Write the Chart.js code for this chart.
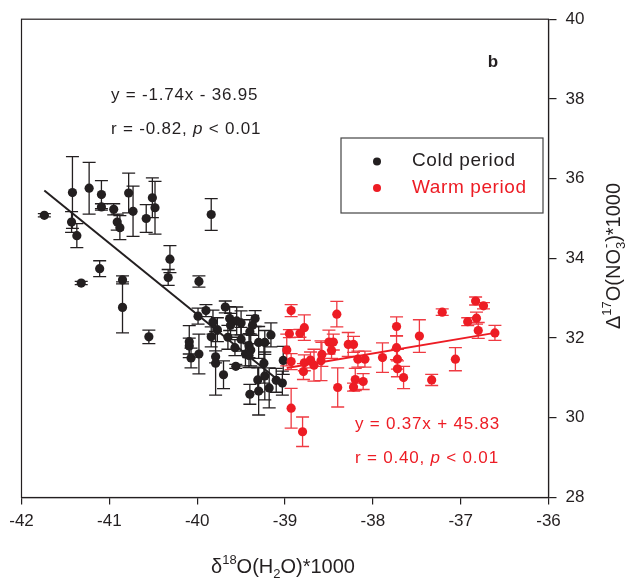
<!DOCTYPE html>
<html>
<head>
<meta charset="utf-8">
<script src="https://cdn.jsdelivr.net/npm/chart.js@4/dist/chart.umd.min.js"></script>
<style>
html,body{margin:0;padding:0;background:#fff;}
#wrap{width:630px;height:579px;position:relative;}
</style>
</head>
<body>
<div id="wrap"><canvas id="c" width="630" height="579"></canvas></div>
<script>
// ---------- DATA ----------
const xTicks = [-42, -41, -40, -39, -38, -37, -36];
const yTicks = [28, 30, 32, 34, 36, 38, 40];

const coldX = [-41.74,-41.42,-41.43,-41.37,-41.23,-41.09,-41.09,-40.95,-40.91,-40.88,-40.78,-40.73,-40.58,-40.51,-40.48,-39.84,
  -41.11,-41.32,-40.85,-40.85,-40.55,-40.31,-40.33,-39.98,-39.90,-39.68,-39.99,-39.82,-39.63,-39.55,-39.50,-39.34,
  -39.37,-39.40,-39.62,-39.77,-39.84,-39.65,-39.50,-39.57,-39.41,-39.39,-39.30,-39.23,-39.16,-40.09,-40.09,-39.98,
  -40.07,-39.79,-39.79,-39.56,-39.70,-39.45,-39.41,-39.24,-39.23,-39.31,-39.18,-39.30,-39.40,-39.10,-39.03,-39.02];
const coldY = [35.08,35.65,34.91,34.57,35.76,35.60,35.29,35.23,34.91,34.77,35.64,35.18,35.00,35.52,35.27,35.10,
  33.74,33.38,33.46,32.77,32.03,33.98,33.52,33.42,32.69,32.78,32.55,32.40,32.49,32.43,32.38,32.49,
  32.32,32.16,32.32,32.21,32.03,32.02,31.97,31.76,31.81,31.70,31.89,31.89,32.08,31.91,31.80,31.60,
  31.50,31.53,31.37,31.29,31.08,31.60,31.56,31.37,31.05,30.95,30.75,30.67,30.59,30.94,30.87,31.44];
const coldErr = [0.04,0.90,0.26,0.30,0.65,0.35,0.08,0.14,0.20,0.30,0.50,0.63,0.35,0.50,0.66,0.40,
  0.20,0.04,0.10,0.64,0.17,0.34,0.20,0.14,0.15,0.15,0.20,0.30,0.30,0.35,0.30,0.20,
  0.25,0.30,0.30,0.30,0.25,0.30,0.30,0.20,0.30,0.40,0.40,0.30,0.30,0.40,0.20,0.50,
  0.25,0.15,0.80,0.05,0.35,0.30,0.30,0.50,0.60,0.30,0.50,0.60,0.25,0.30,0.30,0.35];

const warmX = [-38.93,-38.95,-38.83,-38.78,-38.98,-38.93,-38.78,-38.79,-38.93,-38.80,-38.71,-38.67,-38.58,-38.59,
  -38.50,-38.45,-38.47,-38.41,-38.28,-38.22,-38.17,-38.09,-37.89,-37.73,-37.73,-37.72,-37.72,-37.65,-37.47,
  -38.40,-38.20,-38.22,-38.11,-37.21,-36.83,-36.74,-36.92,-36.82,-36.80,-36.61,-37.06,-37.33];
const warmY = [32.69,32.11,32.12,32.26,31.70,31.41,31.38,31.16,30.24,29.65,31.45,31.32,31.59,31.43,
  31.90,31.90,31.69,32.60,31.84,31.84,31.47,31.47,31.51,32.29,31.76,31.47,31.23,31.01,32.05,
  30.76,30.96,30.77,30.91,32.65,32.93,32.81,32.41,32.50,32.19,32.13,31.47,30.95];
const warmErr = [0.15,0.10,0.10,0.32,0.40,0.20,0.20,0.20,0.50,0.37,0.20,0.40,0.30,0.50,
  0.30,0.20,0.20,0.32,0.30,0.20,0.20,0.20,0.37,0.24,0.30,0.25,0.20,0.28,0.41,
  0.49,0.28,0.10,0.20,0.08,0.10,0.08,0.10,0.15,0.20,0.19,0.29,0.14];

const coldFitX = [-41.74, -39.02];
const coldFitY = [35.70, 30.84];
const warmFitX = [-38.98, -36.61];
const warmFitY = [31.25, 32.13];

const legendLabels = ['Cold period', 'Warm period'];
const coldEq = ['y = -1.74x - 36.95', 'r = -0.82, ', 'p', ' < 0.01'];
const warmEq = ['y = 0.37x + 45.83', 'r = 0.40, ', 'p', ' < 0.01'];
const panelLabel = 'b';

// ---------- STYLE ----------
const FONT = "'Liberation Sans', Arial, Helvetica, sans-serif";
const BLACK = '#231f20';
const RED = '#ed1c24';
const RED_BAR = '#ef3a42';

const pts = (xs, ys) => xs.map((x, i) => ({x: x, y: ys[i]}));

const errorBars = {
  id: 'errorBars',
  beforeDatasetsDraw(chart) {
    const ctx = chart.ctx, xs = chart.scales.x, ys = chart.scales.y;
    const sets = [[coldX, coldY, coldErr, BLACK], [warmX, warmY, warmErr, RED_BAR]];
    ctx.save();
    ctx.lineWidth = 1.3;
    sets.forEach(([X, Y, E, col]) => {
      ctx.strokeStyle = col;
      X.forEach((xv, i) => {
        const px = xs.getPixelForValue(xv);
        const top = ys.getPixelForValue(Y[i] + E[i]);
        const bot = ys.getPixelForValue(Y[i] - E[i]);
        ctx.beginPath();
        ctx.moveTo(px, top); ctx.lineTo(px, bot);
        ctx.moveTo(px - 6.5, top); ctx.lineTo(px + 6.5, top);
        ctx.moveTo(px - 6.5, bot); ctx.lineTo(px + 6.5, bot);
        ctx.stroke();
      });
    });
    ctx.restore();
  }
};

function rich(ctx, parts, cx, base) {
  let w = 0;
  parts.forEach(p => {
    ctx.font = p.size + 'px ' + FONT;
    p.w = ctx.measureText(p.t).width;
    if (p.stack) p.w = Math.max(p.w, ctx.measureText(p.stack).width);
    w += p.w;
  });
  let x = cx - w / 2;
  parts.forEach(p => {
    ctx.font = p.size + 'px ' + FONT;
    ctx.fillText(p.t, x, base + p.dy);
    if (p.stack) ctx.fillText(p.stack, x + 1, base + p.sdy);
    x += p.w;
  });
}

function seq(ctx, segs, x, y, size, color, ls) {
  ctx.fillStyle = color;
  ctx.textAlign = 'left';
  ctx.textBaseline = 'middle';
  try { ctx.letterSpacing = ls; } catch (e) {}
  segs.forEach(s => {
    ctx.font = (s.it ? 'italic ' : '') + size + 'px ' + FONT;
    ctx.fillText(s.t, x, y);
    x += ctx.measureText(s.t).width;
  });
  try { ctx.letterSpacing = '0px'; } catch (e) {}
}

const decor = {
  id: 'decor',
  afterDraw(chart) {
    const ctx = chart.ctx, a = chart.chartArea;
    ctx.save();
    // frame
    ctx.strokeStyle = BLACK;
    ctx.lineWidth = 1.2;
    ctx.strokeRect(a.left, a.top, a.right - a.left, a.bottom - a.top);

    // legend box
    ctx.strokeStyle = '#444';
    ctx.lineWidth = 1.2;
    ctx.strokeRect(341, 138, 202, 75);
    ctx.fillStyle = BLACK;
    ctx.beginPath(); ctx.arc(377, 161.5, 4, 0, Math.PI * 2); ctx.fill();
    ctx.fillStyle = RED;
    ctx.beginPath(); ctx.arc(377, 188, 4, 0, Math.PI * 2); ctx.fill();
    seq(ctx, [{t: legendLabels[0]}], 412, 161, 19, BLACK, '0.6px');
    seq(ctx, [{t: legendLabels[1]}], 412, 188, 19, RED, '0.6px');

    // equations
    seq(ctx, [{t: coldEq[0]}], 111, 95, 17, BLACK, '0.8px');
    seq(ctx, [{t: coldEq[1]}, {t: coldEq[2], it: true}, {t: coldEq[3]}], 111, 129, 17, BLACK, '0.8px');
    seq(ctx, [{t: warmEq[0]}], 355, 424, 17, RED, '0.8px');
    seq(ctx, [{t: warmEq[1]}, {t: warmEq[2], it: true}, {t: warmEq[3]}], 355, 458, 17, RED, '0.8px');

    // panel label
    ctx.fillStyle = BLACK;
    ctx.font = 'bold 17px ' + FONT;
    ctx.textAlign = 'center';
    ctx.textBaseline = 'middle';
    ctx.fillText(panelLabel, 493, 62);

    // axis titles
    ctx.textAlign = 'left';
    ctx.textBaseline = 'alphabetic';
    ctx.fillStyle = BLACK;
    rich(ctx, [
      {t: '\u03B4', size: 20, dy: 0},
      {t: '18', size: 13, dy: -9},
      {t: 'O(H', size: 20, dy: 0},
      {t: '2', size: 13, dy: 5},
      {t: 'O)*1000', size: 20, dy: 0}
    ], 283, 573);

    ctx.translate(620, 256);
    ctx.rotate(-Math.PI / 2);
    rich(ctx, [
      {t: '\u0394', size: 20, dy: 0},
      {t: '17', size: 13, dy: -9},
      {t: 'O(NO', size: 20, dy: 0},
      {t: '3', size: 13, dy: 5, stack: '-', sdy: -10},
      {t: ')*1000', size: 20, dy: 0}
    ], 0, 0);
    ctx.restore();
  }
};

const ctx = document.getElementById('c').getContext('2d');
new Chart(ctx, {
  type: 'scatter',
  data: {
    datasets: [
      {label: 'coldFit', data: pts(coldFitX, coldFitY), showLine: true, borderColor: BLACK, borderWidth: 2,
       pointRadius: 0, fill: false, order: 0},
      {label: 'warmFit', data: pts(warmFitX, warmFitY), showLine: true, borderColor: RED, borderWidth: 2,
       pointRadius: 0, fill: false, order: 0},
      {label: legendLabels[1], data: pts(warmX, warmY), backgroundColor: RED, borderColor: RED, borderWidth: 0,
       pointRadius: 4.6, pointHoverRadius: 4.6, order: 1},
      {label: legendLabels[0], data: pts(coldX, coldY), backgroundColor: BLACK, borderColor: BLACK, borderWidth: 0,
       pointRadius: 4.6, pointHoverRadius: 4.6, order: 2}
    ]
  },
  options: {
    responsive: false,
    animation: false,
    devicePixelRatio: 1,
    layout: {padding: {left: 21.5, top: 12.5, right: 0, bottom: 0}},
    plugins: {legend: {display: false}, tooltip: {enabled: false}},
    scales: {
      x: {
        type: 'linear', position: 'bottom', min: -42, max: -36,
        afterBuildTicks: s => { s.ticks = xTicks.map(v => ({value: v})); },
        afterFit: s => { s.height = 81.5; },
        grid: {drawOnChartArea: false, drawTicks: true, tickLength: 7, color: BLACK, lineWidth: 1.2},
        border: {display: true, color: BLACK, width: 1.2},
        ticks: {font: {size: 17, family: FONT}, color: BLACK, padding: 7, maxRotation: 0,
                callback: v => String(v)}
      },
      y: {
        type: 'linear', position: 'right', min: 28, max: 40,
        afterBuildTicks: s => { s.ticks = yTicks.map(v => ({value: v})); },
        afterFit: s => { s.width = 81.5; },
        grid: {drawOnChartArea: false, drawTicks: true, tickLength: 8, color: BLACK, lineWidth: 1.2},
        border: {display: true, color: BLACK, width: 1.2},
        ticks: {font: {size: 17, family: FONT}, color: BLACK, padding: 9, callback: v => String(v)}
      }
    }
  },
  plugins: [errorBars, decor]
});
</script>
</body>
</html>
